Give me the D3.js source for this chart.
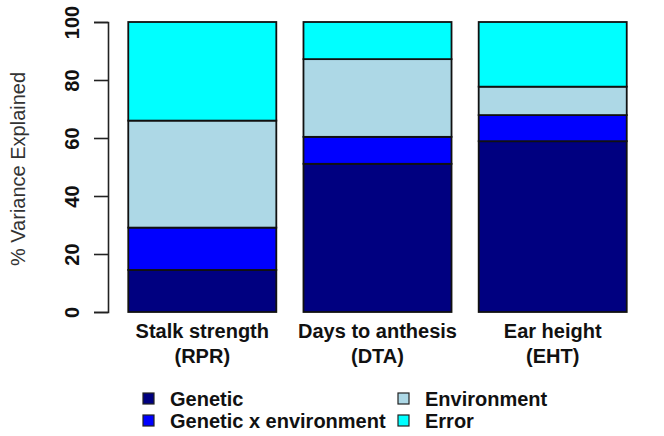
<!DOCTYPE html>
<html>
<head>
<meta charset="utf-8">
<script src="https://cdn.jsdelivr.net/npm/d3@7"></script>
<style>
  body { margin: 0; background: #fff; }
  svg text { font-family: "Liberation Sans", Arial, sans-serif; }
</style>
</head>
<body>
<div id="chart"></div>
<script>
// data
var categories = ["Stalk strength\n(RPR)", "Days to anthesis\n(DTA)", "Ear height\n(EHT)"];
var seriesNames = ["Genetic", "Genetic x environment", "Environment", "Error"];
var genetic = [14.5, 51.1, 58.9];
var gxe = [14.6, 9.3, 9.0];
var environment = [36.9, 26.8, 9.8];
var error = [34.0, 12.8, 22.3];
var yTicks = [0, 20, 40, 60, 80, 100];
var colors = ["#000080", "#0000ff", "#add8e6", "#00ffff"];

var W = 664, H = 436;
var svg = d3.select("#chart").append("svg")
    .attr("width", W).attr("height", H);

var rows = categories.map(function (c, i) {
  return { cat: c, Genetic: genetic[i], "Genetic x environment": gxe[i],
           Environment: environment[i], Error: error[i] };
});
var stacked = d3.stack().keys(seriesNames)(rows);

var x = d3.scaleBand().domain(categories).range([116, 639]).paddingInner(0.155).paddingOuter(0.07);
var y = d3.scaleLinear().domain([0, 100]).range([312, 22]);

// bars
var g = svg.append("g");
stacked.forEach(function (s, k) {
  g.selectAll(null).data(s).enter().append("rect")
    .attr("x", function (d) { return x(d.data.cat); })
    .attr("width", x.bandwidth())
    .attr("y", function (d) { return y(d[1]); })
    .attr("height", function (d) { return y(d[0]) - y(d[1]); })
    .attr("fill", colors[k])
    .attr("stroke", "#111")
    .attr("stroke-width", 1.8);
});

// y axis
var ax = svg.append("g").attr("transform", "translate(108,0)")
  .call(d3.axisLeft(y).tickValues(yTicks).tickSize(14).tickFormat(d3.format("d")));
ax.select(".domain").attr("stroke", "#222").attr("stroke-width", 1.6);
ax.selectAll(".tick line").attr("stroke", "#222").attr("stroke-width", 1.6);
ax.selectAll(".tick text")
  .attr("transform", "rotate(-90)")
  .attr("x", 0).attr("y", -36)
  .attr("dy", "0.35em")
  .attr("text-anchor", "middle")
  .attr("font-size", 20).attr("font-weight", "bold").attr("fill", "#111");

svg.append("text")
  .attr("transform", "translate(18,169) rotate(-90)")
  .attr("text-anchor", "middle").attr("dy", "0.35em")
  .attr("font-size", 20).attr("fill", "#333")
  .text("% Variance Explained");

// category labels
categories.forEach(function (c) {
  var lines = c.split("\n");
  var t = svg.append("text")
    .attr("x", x(c) + x.bandwidth() / 2)
    .attr("text-anchor", "middle")
    .attr("font-size", 20).attr("font-weight", "bold").attr("fill", "#111");
  lines.forEach(function (l, i) {
    t.append("tspan").attr("x", x(c) + x.bandwidth() / 2)
      .attr("y", 338 + i * 25).text(l);
  });
});

// legend
var legPos = [[143, 406], [143, 428], [398, 406], [398, 428]];
seriesNames.forEach(function (n, k) {
  var lg = svg.append("g").attr("transform", "translate(" + legPos[k][0] + "," + legPos[k][1] + ")");
  lg.append("rect").attr("x", 0).attr("y", -13).attr("width", 11).attr("height", 11)
    .attr("fill", colors[k]).attr("stroke", "#222").attr("stroke-width", 1.2);
  lg.append("text").attr("x", 27).attr("y", 0)
    .attr("font-size", 20).attr("font-weight", "bold").attr("fill", "#111")
    .text(n);
});
</script>
</body>
</html>
